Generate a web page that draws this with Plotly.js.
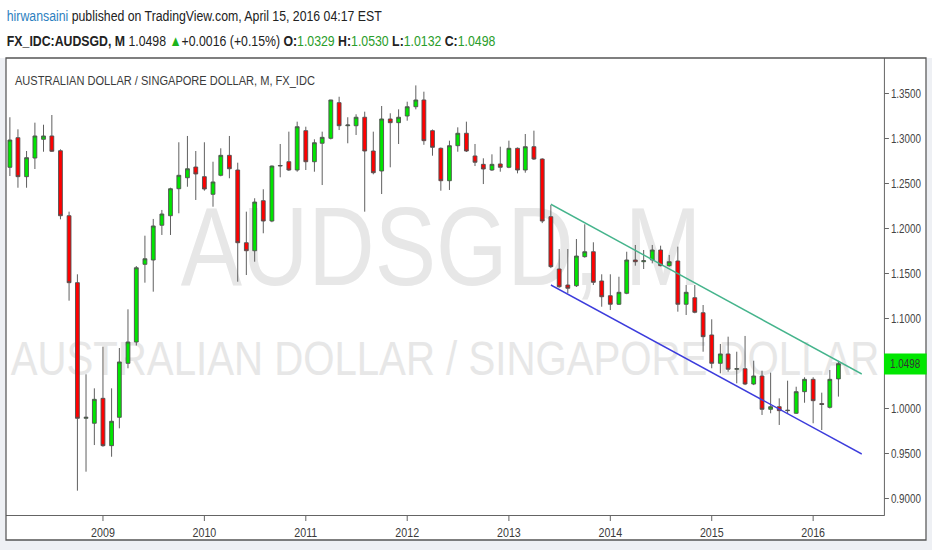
<!DOCTYPE html>
<html>
<head>
<meta charset="utf-8">
<script src="https://cdn.plot.ly/plotly-3.0.1.min.js"></script>
<style>
html,body{margin:0;padding:0;background:#ffffff;overflow:hidden;width:932px;height:550px;}
#chart{width:1136px;height:550px;transform:scaleX(0.82042);transform-origin:0 0;}
</style>
</head>
<body>
<div id="chart"></div>
<script>
// ---- data (monthly candles, FX_IDC:AUDSGD) ----
var months = [
 "2008-02-01","2008-03-01","2008-04-01","2008-05-01","2008-06-01","2008-07-01","2008-08-01","2008-09-01","2008-10-01","2008-11-01","2008-12-01",
 "2009-01-01","2009-02-01","2009-03-01","2009-04-01","2009-05-01","2009-06-01","2009-07-01","2009-08-01","2009-09-01","2009-10-01","2009-11-01","2009-12-01",
 "2010-01-01","2010-02-01","2010-03-01","2010-04-01","2010-05-01","2010-06-01","2010-07-01","2010-08-01","2010-09-01","2010-10-01","2010-11-01","2010-12-01",
 "2011-01-01","2011-02-01","2011-03-01","2011-04-01","2011-05-01","2011-06-01","2011-07-01","2011-08-01","2011-09-01","2011-10-01","2011-11-01","2011-12-01",
 "2012-01-01","2012-02-01","2012-03-01","2012-04-01","2012-05-01","2012-06-01","2012-07-01","2012-08-01","2012-09-01","2012-10-01","2012-11-01","2012-12-01",
 "2013-01-01","2013-02-01","2013-03-01","2013-04-01","2013-05-01","2013-06-01","2013-07-01","2013-08-01","2013-09-01","2013-10-01","2013-11-01","2013-12-01",
 "2014-01-01","2014-02-01","2014-03-01","2014-04-01","2014-05-01","2014-06-01","2014-07-01","2014-08-01","2014-09-01","2014-10-01","2014-11-01","2014-12-01",
 "2015-01-01","2015-02-01","2015-03-01","2015-04-01","2015-05-01","2015-06-01","2015-07-01","2015-08-01","2015-09-01","2015-10-01","2015-11-01","2015-12-01",
 "2016-01-01","2016-02-01","2016-03-01","2016-04-01"
];
var openPrices = [
 1.2680,1.3009,1.2576,1.2783,1.2991,1.3028,1.2864,1.2142,1.1398,0.9891,0.9836,
 1.0113,0.9587,0.9902,1.0502,1.0739,1.1602,1.1650,1.2036,1.2142,1.2442,1.2564,1.2683,
 1.2576,1.2380,1.2591,1.2813,1.2650,1.1842,1.1753,1.2309,1.2083,1.2694,1.2742,1.2650,
 1.3087,1.2742,1.2947,1.3002,1.3398,1.3142,1.3142,1.3236,1.2861,1.2639,1.3217,1.3176,
 1.3250,1.3353,1.3428,1.3087,1.2891,1.2531,1.2920,1.3058,1.2806,1.2713,1.2650,1.2717,
 1.2680,1.2891,1.2650,1.2909,1.2772,1.2131,1.1550,1.1372,1.1364,1.1687,1.1742,1.1417,
 1.1253,1.1158,1.1280,1.1650,1.1631,1.1650,1.1761,1.1587,1.1639,1.1158,1.1231,1.1064,
 1.0817,1.0502,1.0606,1.0436,1.0442,1.0272,1.0361,0.9991,1.0020,0.9976,0.9947,1.0187,
 1.0324,1.0055,1.0013,1.0329
];
var highPrices = [
 1.3236,1.3102,1.2861,1.3176,1.3153,1.3261,1.2880,1.2187,1.1491,1.0380,1.0224,
 1.0687,1.0224,1.0672,1.1102,1.1583,1.1920,1.2106,1.2206,1.2453,1.2958,1.3028,1.2861,
 1.2958,1.2742,1.2891,1.3028,1.2731,1.2187,1.2336,1.2436,1.2700,1.2939,1.3076,1.3187,
 1.3131,1.2991,1.3076,1.3430,1.3464,1.3236,1.3269,1.3298,1.3076,1.3361,1.3280,1.3324,
 1.3409,1.3590,1.3520,1.3100,1.2900,1.2976,1.3124,1.3187,1.2939,1.2780,1.2824,1.2909,
 1.2976,1.2900,1.3050,1.3087,1.2780,1.2261,1.1772,1.1772,1.1883,1.2047,1.1847,1.1491,
 1.1491,1.1464,1.1742,1.1817,1.1761,1.1817,1.1809,1.1706,1.1798,1.1372,1.1372,1.1150,
 1.0991,1.0717,1.0798,1.0631,1.0806,1.0531,1.0420,1.0398,1.0113,1.0309,1.0242,1.0347,
 1.0347,1.0176,1.0428,1.0530
];
var lowPrices = [
 1.2583,1.2453,1.2453,1.2661,1.2853,1.2850,1.2102,1.1198,0.9087,0.9298,0.9594,
 0.9575,0.9464,0.9780,1.0447,1.0700,1.1398,1.1298,1.1928,1.1928,1.2169,1.2464,1.2317,
 1.2420,1.2242,1.2580,1.2558,1.1409,1.1483,1.1631,1.1947,1.2070,1.2569,1.2640,1.2631,
 1.2650,1.2631,1.2483,1.2990,1.3094,1.2947,1.3039,1.2187,1.2602,1.2383,1.2680,1.2939,
 1.3198,1.3324,1.2930,1.2809,1.2420,1.2428,1.2853,1.2850,1.2694,1.2494,1.2640,1.2631,
 1.2670,1.2613,1.2620,1.2761,1.2060,1.1560,1.1342,1.1280,1.1350,1.1676,1.1372,1.1131,
 1.1094,1.1150,1.1270,1.1587,1.1550,1.1613,1.1580,1.1576,1.1076,1.1039,1.1058,1.0631,
 1.0447,1.0391,1.0409,1.0280,1.0260,1.0260,0.9928,0.9947,0.9817,0.9939,0.9940,1.0064,
 0.9836,0.9761,1.0000,1.0132
];
var closePrices = [
 1.2983,1.2576,1.2787,1.3028,1.3028,1.2858,1.2142,1.1398,0.9891,0.9902,1.0102,
 0.9587,0.9858,1.0517,1.0739,1.1564,1.1664,1.2028,1.2161,1.2442,1.2591,1.2664,1.2606,
 1.2439,1.2517,1.2813,1.2664,1.1842,1.1753,1.2294,1.2083,1.2694,1.2700,1.2650,1.3131,
 1.2742,1.2953,1.3013,1.3428,1.3142,1.3150,1.3236,1.2861,1.2620,1.3217,1.3176,1.3236,
 1.3353,1.3428,1.2976,1.2902,1.2531,1.2920,1.3058,1.2861,1.2736,1.2661,1.2713,1.2680,
 1.2891,1.2650,1.2909,1.2772,1.2083,1.1576,1.1353,1.1336,1.1694,1.1742,1.1402,1.1242,
 1.1158,1.1291,1.1650,1.1631,1.1642,1.1761,1.1587,1.1631,1.1158,1.1291,1.1069,1.0798,
 1.0502,1.0606,1.0436,1.0442,1.0272,1.0361,0.9991,1.0020,0.9976,0.9980,1.0187,1.0324,
 1.0087,1.0045,1.0324,1.0498
];
// trend channel drawn on the chart
var channelDates = ["2013-06-01","2016-06-24"];
var channelUpper = [1.2269, 1.0383];
var channelLower = [1.1372, 0.9494];
// price-axis labels (1.0500 is hidden behind the last-price tag)
var yTickValues = [0.90, 0.95, 1.00, 1.10, 1.15, 1.20, 1.25, 1.30, 1.35];
var yTickLabels = ["0.9000","0.9500","1.0000","1.1000","1.1500","1.2000","1.2500","1.3000","1.3500"];
var lastPrice = 1.0498;
var lastPriceLabel = "1.0498";

// ---- layout helpers (figure is drawn wide, then squeezed horizontally by CSS) ----
var S = 0.82042;              // horizontal squeeze
var W = 1136, H = 550;        // drawing size before squeeze (1136*S = 932)
function px(x){ return x / 932; }   // x in final picture pixels -> paper
function py(y){ return 1 - y / H; }
var FONT = '"Liberation Sans", Arial, sans-serif';

var traces = [
  {
    type: 'candlestick',
    x: months, open: openPrices, high: highPrices, low: lowPrices, close: closePrices,
    increasing: {fillcolor: '#00e600', line: {color: '#505050', width: 1}},
    decreasing: {fillcolor: '#ff0000', line: {color: '#505050', width: 1}},
    whiskerwidth: 0,
    hoverinfo: 'skip',
    showlegend: false
  },
  {
    type: 'scatter', mode: 'lines', x: channelDates, y: channelUpper,
    line: {color: '#45b48c', width: 1.5}, hoverinfo: 'skip', showlegend: false
  },
  {
    type: 'scatter', mode: 'lines', x: channelDates, y: channelLower,
    line: {color: '#3c3cdc', width: 1.5}, hoverinfo: 'skip', showlegend: false
  }
];

var G = '#2a9d2a';
var header2 = '<b>FX_IDC:AUDSGD, M</b> 1.0498 <span style="color:#1db31d">▲</span>+0.0016 (+0.15%) ' +
  '<b>O:</b><span style="color:'+G+'">1.0329</span> <b>H:</b><span style="color:'+G+'">1.0530</span> ' +
  '<b>L:</b><span style="color:'+G+'">1.0132</span> <b>C:</b><span style="color:'+G+'">1.0498</span>';

var layout = {
  width: W, height: H,
  margin: {l: 0, r: 0, t: 0, b: 0},
  paper_bgcolor: '#ffffff',
  plot_bgcolor: '#ffffff',
  showlegend: false,
  dragmode: false,
  font: {family: FONT, color: '#333'},
  xaxis: {
    type: 'date',
    domain: [px(6), px(884)],
    range: ['2008-01-18', '2016-09-12'],
    rangeslider: {visible: false},
    showgrid: false, zeroline: false,
    showline: true, linecolor: '#555', linewidth: 1,
    ticks: 'outside', ticklen: 5, tickcolor: '#555',
    tick0: '2009-01-01', dtick: 'M12', tickformat: '%Y',
    tickfont: {family: FONT, size: 13, color: '#3a3a3a'},
    fixedrange: true
  },
  yaxis: {
    domain: [py(515), py(58)],
    range: [0.88167, 1.38944],
    side: 'right',
    showgrid: false, zeroline: false,
    showline: true, linecolor: '#555', linewidth: 1,
    ticks: 'outside', ticklen: 5, tickcolor: '#555',
    tickmode: 'array', tickvals: yTickValues, ticktext: yTickLabels,
    tickfont: {family: FONT, size: 12, color: '#444'},
    fixedrange: true
  },
  shapes: [
    // grey surround outside the chart frame
    {type:'rect', xref:'paper', yref:'paper', x0:0, x1:1, y0:0, y1:py(540), fillcolor:'#eef0f4', line:{width:0}, layer:'below'},
    {type:'rect', xref:'paper', yref:'paper', x0:0, x1:px(6), y0:0, y1:py(58), fillcolor:'#eef0f4', line:{width:0}, layer:'below'},
    {type:'rect', xref:'paper', yref:'paper', x0:px(926), x1:1, y0:0, y1:py(58), fillcolor:'#eef0f4', line:{width:0}, layer:'below'},
    // watermark lines
    {type:'rect', xref:'paper', yref:'paper', x0:px(6), x1:px(876), y0:py(286), y1:py(186),
     line:{width:0}, fillcolor:'rgba(0,0,0,0)', layer:'below',
     label:{text:'AUDSGD, M', textposition:'middle center', font:{family:FONT, size:112, color:'#e7e7e7'}}},
    {type:'rect', xref:'paper', yref:'paper', x0:px(6), x1:px(884), y0:py(378), y1:py(328),
     line:{width:0}, fillcolor:'rgba(0,0,0,0)', layer:'below',
     label:{text:'AUSTRALIAN DOLLAR / SINGAPORE DOLLAR', textposition:'middle center', font:{family:FONT, size:49, color:'#e7e7e7'}}},
    // outer frame
    {type:'rect', xref:'paper', yref:'paper', x0:px(6), x1:px(926), y0:py(540), y1:py(58),
     line:{color:'#555', width:1.5}, fillcolor:'rgba(0,0,0,0)', layer:'above'}
  ],
  annotations: [
    {xref:'paper', yref:'paper', x:px(5), y:py(16), xanchor:'left', yanchor:'middle', showarrow:false,
     text:'<span style="color:#2c7fc0">hirwansaini</span> published on TradingView.com, April 15, 2016 04:17 EST',
     font:{family:FONT, size:15, color:'#222'}},
    {xref:'paper', yref:'paper', x:px(5), y:py(40), xanchor:'left', yanchor:'middle', showarrow:false,
     text: header2, font:{family:FONT, size:15, color:'#222'}},
    {xref:'paper', yref:'paper', x:px(13), y:py(81), xanchor:'left', yanchor:'middle', showarrow:false,
     text:'AUSTRALIAN DOLLAR / SINGAPORE DOLLAR, M, FX_IDC',
     font:{family:FONT, size:13.5, color:'#3a3a3a'}},
    {xref:'paper', yref:'y', x:px(905), y:lastPrice, xanchor:'center', yanchor:'middle', showarrow:false,
     text:lastPriceLabel, bgcolor:'#00e600', width:40/S, height:18,
     font:{family:FONT, size:12, color:'#333'}}
  ]
};

Plotly.newPlot('chart', traces, layout, {staticPlot: true, displayModeBar: false});
</script>
</body>
</html>
